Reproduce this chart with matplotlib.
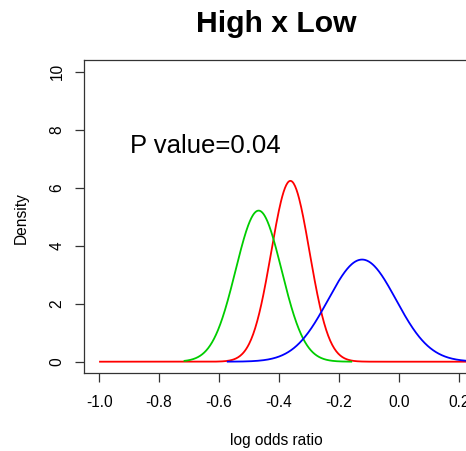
import numpy as np
import matplotlib
matplotlib.use("Agg")
import matplotlib.pyplot as plt

# Data: normal density curves (mean, sd, drawn range)
curve_names = ["Low", "High", "Ref"]
curve_means = [-0.362, -0.468, -0.123]
curve_sds = [0.0640, 0.0766, 0.1133]
curve_from = [-1.0, -0.718, -0.574]
curve_to = [0.35, -0.156, 0.35]
curve_colors = ["#FF0000", "#00CD00", "#0000FF"]

x_ticks = [-1.0, -0.8, -0.6, -0.4, -0.2, 0.0, 0.2]
y_ticks = [0, 2, 4, 6, 8, 10]
title = "High x Low"
annotation = "P value=0.04"
annot_x, annot_y = -0.645, 7.45

plt.rcParams['font.family'] = ['Liberation Sans', 'DejaVu Sans']

W, H = 466, 451
fig = plt.figure(figsize=(W / 100, H / 100), dpi=100)
left, right, top, bottom = 83.5, 504.5, 60.0, 373.3
ax = fig.add_axes([left / W, 1 - bottom / H, (right - left) / W, (bottom - top) / H])

for m, s, a, b, c in zip(curve_means, curve_sds, curve_from, curve_to, curve_colors):
    xs = np.linspace(a, b, 600)
    ys = np.exp(-0.5 * ((xs - m) / s) ** 2) / (s * np.sqrt(2 * np.pi))
    ax.plot(xs, ys, color=c, lw=1.3, solid_capstyle='butt')

ax.set_xlim(-1.052, 0.352)
ax.set_ylim(-0.4, 10.4)
ax.set_xticks(x_ticks)
ax.set_xticklabels([f"{v:.1f}" for v in x_ticks])
ax.set_yticks(y_ticks)
ax.set_yticklabels([str(v) for v in y_ticks], rotation=90, va='center')
ax.tick_params(axis='both', labelsize=11.2, length=6.6, width=0.9, color='#333333')
ax.tick_params(axis='x', pad=9)
ax.tick_params(axis='y', pad=7)
for sp in ax.spines.values():
    sp.set_linewidth(0.9)
    sp.set_color('#333333')

fig.text(276 / W, 1 - 440.5 / H, "log odds ratio", ha='center', va='center', fontsize=11.2)
fig.text(21.5 / W, 1 - 218 / H, "Density", ha='center', va='center', rotation=90, fontsize=11.2)
fig.text(276 / W, 1 - 24 / H, title, ha='center', va='center', fontsize=21.7, fontweight='bold')
ax.text(annot_x, annot_y, annotation, ha='center', va='center', fontsize=18.5)

fig.savefig("out.png", dpi=100)
